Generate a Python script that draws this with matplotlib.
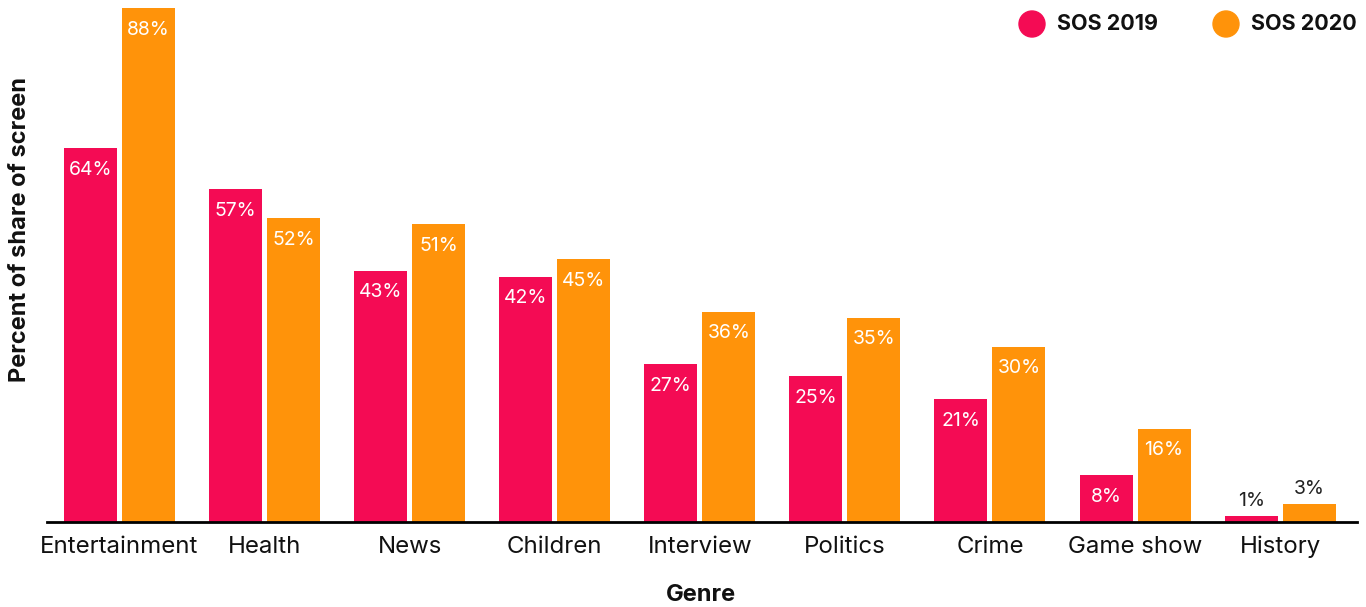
import matplotlib
matplotlib.use("Agg")
import matplotlib.pyplot as plt
import numpy as np

genres = ["Entertainment", "Health", "News", "Children", "Interview",
          "Politics", "Crime", "Game show", "History"]
sos2019 = [64, 57, 43, 42, 27, 25, 21, 8, 1]
sos2020 = [88, 52, 51, 45, 36, 35, 30, 16, 3]
series_names = ["SOS 2019", "SOS 2020"]
colors = ["#F40B54", "#FF930A"]

plt.rcParams['font.family'] = ['Inter', 'DejaVu Sans']

W, H = 1366, 607
fig = plt.figure(figsize=(W / 100, H / 100), dpi=100)
ax = fig.add_axes([47 / W, (H - 522) / H, (1357 - 47) / W, (522 - 8) / H])

x = np.arange(len(genres))
bw = 53 / 145
gap = 5 / 145
off = (bw + gap) / 2
b1 = ax.bar(x - off, sos2019, width=bw, color=colors[0], label=series_names[0])
b2 = ax.bar(x + off, sos2020, width=bw, color=colors[1], label=series_names[1])

for bars, vals in [(b1, sos2019), (b2, sos2020)]:
    for rect, v in zip(bars, vals):
        cx = rect.get_x() + rect.get_width() / 2
        if v >= 5:
            ax.annotate(f"{v}%", (cx, v), xytext=(0, -15.5), textcoords="offset points",
                        ha="center", va="center", color="white", fontsize=14,
                        fontweight="normal")
        else:
            ax.annotate(f"{v}%", (cx, v), xytext=(0, 11), textcoords="offset points",
                        ha="center", va="center", color="#222222", fontsize=14,
                        fontweight="normal")

ax.set_xlim(-0.5, 8.53)
ax.set_ylim(0, 88)
ax.set_xticks(x)
ax.set_xticklabels(genres, fontsize=17.3, color="#111111")
ax.tick_params(axis="x", length=0, pad=10)
ax.set_yticks([])
for s in ["top", "right", "left"]:
    ax.spines[s].set_visible(False)
ax.spines["bottom"].set_linewidth(2)
ax.spines["bottom"].set_color("black")

fig.text(20 / W, 1 - 229 / H, "Percent of share of screen", rotation=90,
         ha="center", va="center", fontsize=17, fontweight="bold", color="#111111")
fig.text(701 / W, 1 - 595 / H, "Genre", ha="center", va="center",
         fontsize=17, fontweight="bold", color="#111111")

# legend
for i, (name, c) in enumerate(zip(series_names, colors)):
    cx = [1032, 1226][i]
    fig.patches.append(matplotlib.patches.Ellipse((cx / W, 1 - 24 / H), 26 / W, 26 / H,
                                                  transform=fig.transFigure, color=c))
    fig.text((cx + 25) / W, 1 - 24 / H, name, ha="left", va="center",
             fontsize=15.5, fontweight="bold", color="#111111")

fig.savefig("out.png", dpi=100)
